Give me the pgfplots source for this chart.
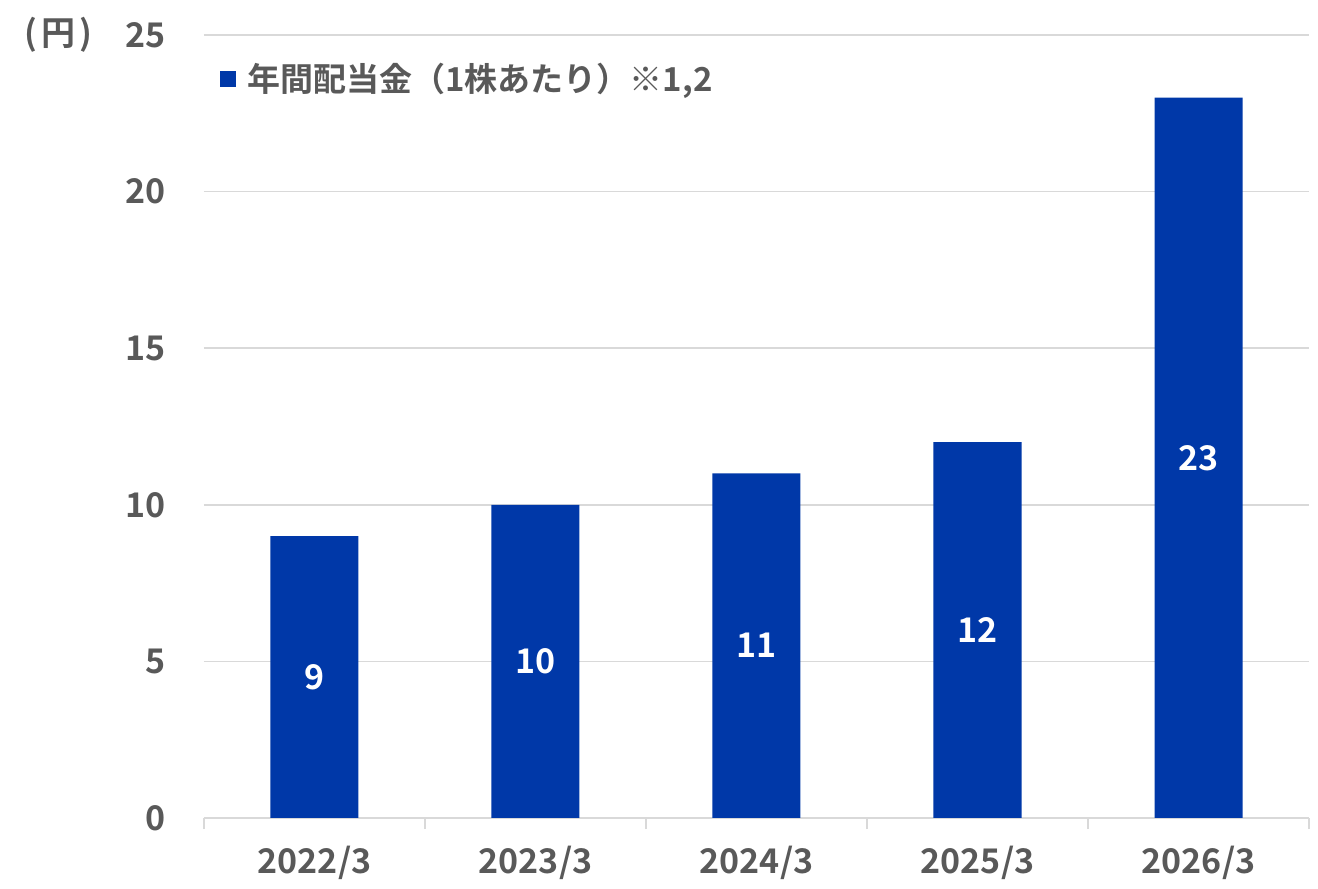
\documentclass[border=0pt]{standalone}
\usepackage{pgfplots}
\pgfplotsset{compat=1.18}
\usepackage{pgfplotstable}
\usepackage{fontspec}
\setmainfont{Noto Sans CJK JP}[BoldFont={* Bold}]
\definecolor{barblue}{HTML}{0038A8}
\definecolor{txtgray}{HTML}{595959}
\definecolor{gridgray}{HTML}{D9D9D9}
\newcommand\lbl{\fontsize{17}{20}\selectfont\bfseries}
\newcommand\leglbl{\fontsize{16.5}{20}\selectfont\bfseries}
\pgfplotstableread{
x v
0 9
1 10
2 11
3 12
4 23
}\divtable
\begin{document}
\begin{tikzpicture}
\path[use as bounding box] (-102pt,-35.5pt) rectangle (557pt,409pt);
\begin{axis}[
  at={(0pt,0pt)}, anchor=south west,
  scale only axis, width=552.5pt, height=391.5pt,
  xmin=-0.5, xmax=4.5, ymin=0, ymax=25,
  xtick={0,1,2,3,4},
  xticklabels={2022/3,2023/3,2024/3,2025/3,2026/3},
  minor xtick={-0.5,0.5,1.5,2.5,3.5,4.5},
  ytick={0,5,10,15,20,25},
  major tick length=0pt, minor tick length=5.5pt, tick align=outside,
  minor tick style={draw=gridgray, line width=0.75pt},
  axis x line*=bottom, axis y line*=left,
  x axis line style={draw=gridgray, line width=0.75pt},
  y axis line style={draw=none},
  ymajorgrids, major grid style={draw=gridgray, line width=0.75pt},
  /pgf/number format/assume math mode=true,
  tick label style={font=\lbl, text=txtgray, inner sep=0pt},
  x tick label style={anchor=base, yshift=-27.5pt},
  y tick label style={anchor=east, xshift=-19pt},
  legend style={at={(rel axis cs:0,1)}, anchor=north west, xshift=6pt, yshift=-10pt,
    draw=none, fill=none, font=\leglbl, text=txtgray, inner sep=2pt},
  legend image code/.code={\fill[barblue] (0pt,-4pt) rectangle (8pt,4pt); \path (11.5pt,0pt);},
  clip=false,
]
\addplot[ybar, bar width=44pt, fill=barblue, draw=none] table[x=x, y=v] {\divtable};
\addlegendentry{年間配当金（1株あたり）※1,2}
\addplot[draw=none, mark=none, nodes near coords, point meta=explicit symbolic,
  every node near coord/.append style={anchor=center, font=\lbl, text=white}]
  table[x=x, y expr=\thisrow{v}/2, meta=v] {\divtable};
\node[anchor=west, font=\lbl, text=txtgray, inner sep=0pt] at (rel axis cs:0,1) [xshift=-90pt] {(\kern2pt円\kern2pt)};
\end{axis}
\end{tikzpicture}
\end{document}
